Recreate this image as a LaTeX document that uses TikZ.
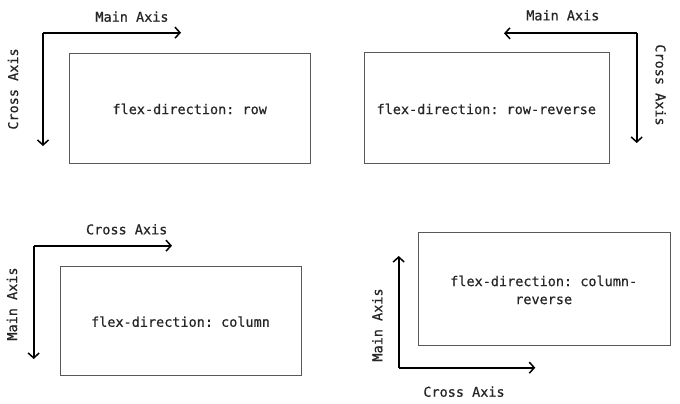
\documentclass[tikz,border=0pt]{standalone}
\usepackage{fontspec}
\setmonofont[FakeBold=0.6]{DejaVu Sans Mono}
\usetikzlibrary{arrows.meta}
\begin{document}
\begin{tikzpicture}[x=1pt,y=-1pt,
	flexbox/.style={draw=black!65,line width=.8pt},
	axis/.style={line width=1.8pt,-{Straight Barb[length=5pt,width=11pt,line width=1.5pt]}},
	lbl/.style={font=\ttfamily\fontsize{13.5}{18}\selectfont,inner sep=0pt,align=center,text=black!85}]
	\useasboundingbox (0,0) rectangle (680,404);
	\path
	(43,32.7) coordinate (O1) (181,32.7) coordinate (M1) (43,146) coordinate (C1)
	(636.7,33.3) coordinate (O2) (504,33.3) coordinate (M2) (636.7,143) coordinate (C2)
	(33.7,245.7) coordinate (O3) (172,245.7) coordinate (C3) (33.7,359) coordinate (M3)
	(398.7,367.7) coordinate (O4) (535.3,367.7) coordinate (C4) (398.7,256) coordinate (M4)
	;
	% boxes
	\draw[flexbox] (69,53.7) rectangle (310,163);
	\draw[flexbox] (364,52.7) rectangle (609.3,163);
	\draw[flexbox] (60,266.7) rectangle (301,375.7);
	\draw[flexbox] (418,232.3) rectangle (670,345.7);
	\node[lbl] (row) at (189.7,109) {flex-direction: row};
	\node[lbl] (rowrev) at (486.3,109) {flex-direction: row-reverse};
	\node[lbl] (col) at (180.5,321.7) {flex-direction: column};
	\node[lbl] (colrev) at (543.7,290) {flex-direction: column-\\reverse};
	% axes
	\draw[axis] (O1)--(M1);
	\draw[axis] (O1)--(C1);
	\draw[axis] (O2)--(M2);
	\draw[axis] (O2)--(C2);
	\draw[axis] (O3)--(C3);
	\draw[axis] (O3)--(M3);
	\draw[axis] (O4)--(C4);
	\draw[axis] (O4)--(M4);
	% axis labels
	\node[lbl] (main1) at (132,16.7) {Main Axis};
	\node[lbl,rotate=90] (cross1) at (13,89) {Cross Axis};
	\node[lbl] (main2) at (562.8,15.3) {Main Axis};
	\node[lbl,rotate=-90] (cross2) at (660.7,85) {Cross Axis};
	\node[lbl] (cross3) at (126.7,229.3) {Cross Axis};
	\node[lbl,rotate=90] (main3) at (12,304) {Main Axis};
	\node[lbl] (cross4) at (464,391.7) {Cross Axis};
	\node[lbl,rotate=90] (main4) at (377.3,325) {Main Axis};
\end{tikzpicture}
\end{document}
